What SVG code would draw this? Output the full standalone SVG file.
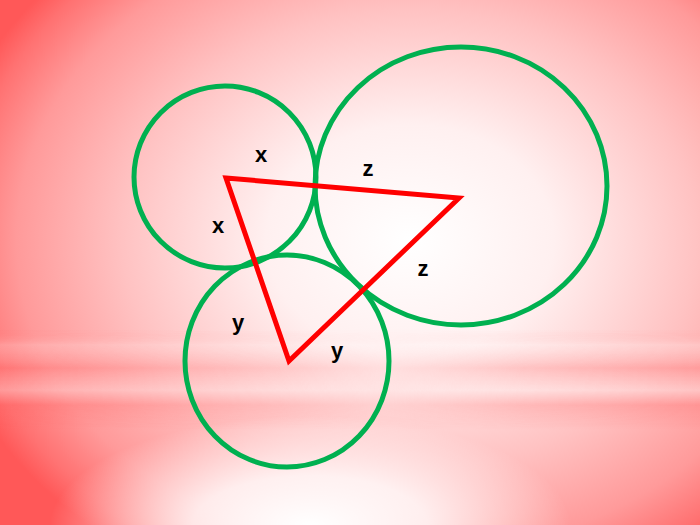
<svg xmlns="http://www.w3.org/2000/svg" width="700" height="525" viewBox="0 0 700 525">
<defs>
<radialGradient id="bg" gradientUnits="userSpaceOnUse" cx="410" cy="240" r="480" gradientTransform="translate(410 240) scale(1 0.8) translate(-410 -240)">
<stop offset="0" stop-color="#ffffff"/>
<stop offset="0.3" stop-color="#fff0f0"/>
<stop offset="0.6" stop-color="#ffc2c2"/>
<stop offset="0.82" stop-color="#ff9a9a"/>
<stop offset="0.94" stop-color="#ff7272"/>
<stop offset="1" stop-color="#ff5858"/>
</radialGradient>
<radialGradient id="glow" gradientUnits="userSpaceOnUse" cx="310" cy="525" r="260" gradientTransform="translate(310 525) scale(1 0.42) translate(-310 -525)">
<stop offset="0" stop-color="#ffffff" stop-opacity="1"/>
<stop offset="0.45" stop-color="#ffffff" stop-opacity="0.8"/>
<stop offset="1" stop-color="#ffffff" stop-opacity="0"/>
</radialGradient>
<linearGradient id="band" x1="0" y1="330" x2="0" y2="430" gradientUnits="userSpaceOnUse">
<stop offset="0" stop-color="#ff6060" stop-opacity="0"/>
<stop offset="0.15" stop-color="#ffffff" stop-opacity="0.2"/>
<stop offset="0.38" stop-color="#ff6a6a" stop-opacity="0.3"/>
<stop offset="0.6" stop-color="#ffffff" stop-opacity="0.28"/>
<stop offset="0.75" stop-color="#ff6060" stop-opacity="0.28"/>
<stop offset="1" stop-color="#ff6060" stop-opacity="0"/>
</linearGradient>
<linearGradient id="bandfade" x1="0" y1="0" x2="700" y2="0" gradientUnits="userSpaceOnUse">
<stop offset="0" stop-color="#fff" stop-opacity="1"/>
<stop offset="0.4" stop-color="#fff" stop-opacity="0.6"/>
<stop offset="0.55" stop-color="#fff" stop-opacity="0.3"/>
<stop offset="0.75" stop-color="#fff" stop-opacity="0.8"/>
<stop offset="1" stop-color="#fff" stop-opacity="1"/>
</linearGradient>
<mask id="bm"><rect x="0" y="320" width="700" height="120" fill="url(#bandfade)"/></mask>
<style>
.ring{fill:none;stroke:#00b050;stroke-width:5}
.tri{fill:none;stroke:#ff0000;stroke-width:5;stroke-linejoin:miter}
.lbl{font-family:"Liberation Sans",Arial,sans-serif;font-weight:bold;font-size:22px;fill:#000;text-anchor:middle}
</style>
</defs>
<g id="background">
<rect width="700" height="525" fill="url(#bg)"/>
<rect x="0" y="320" width="700" height="120" fill="url(#band)" mask="url(#bm)"/>
<rect width="700" height="525" fill="url(#glow)"/>
</g>
<g id="circle-x"><circle class="ring" cx="225" cy="177" r="91"/></g>
<g id="circle-z"><ellipse class="ring" cx="461" cy="186" rx="146" ry="139"/></g>
<g id="circle-y"><ellipse class="ring" cx="287" cy="361" rx="102" ry="106"/></g>
<g id="connectors">
<polygon class="tri" points="226,178 459,198 289,361"/>
</g>
<g id="labels">
<text class="lbl" x="261" y="162">x</text>
<text class="lbl" x="218" y="233">x</text>
<text class="lbl" x="368" y="176">z</text>
<text class="lbl" x="423" y="276">z</text>
<text class="lbl" x="238" y="330">y</text>
<text class="lbl" x="337" y="358">y</text>
</g>
</svg>
